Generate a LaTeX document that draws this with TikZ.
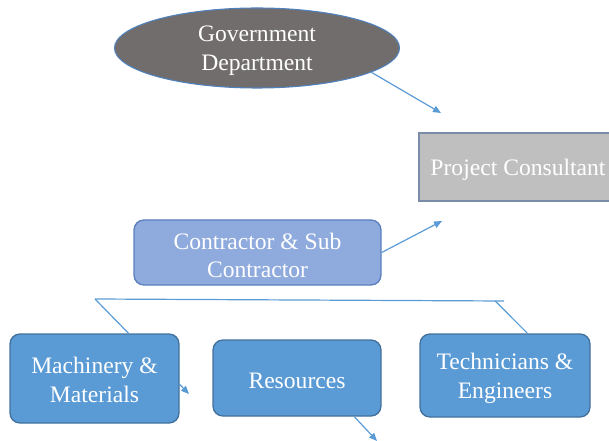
\documentclass[tikz,border=0pt]{standalone}
\usepackage{fontspec}
\setmainfont{Liberation Serif}
\usetikzlibrary{arrows.meta,shapes.geometric}
\definecolor{govfill}{HTML}{716D6D}
\definecolor{govline}{HTML}{4F81BD}
\definecolor{pcfill}{HTML}{BFBFBF}
\definecolor{pcline}{HTML}{7A8CA8}
\definecolor{ctfill}{HTML}{8FAADC}
\definecolor{ctline}{HTML}{5A7FBF}
\definecolor{bfill}{HTML}{5B9BD5}
\definecolor{bline}{HTML}{41719C}
\definecolor{lineblue}{HTML}{5B9BD5}
\begin{document}
\begin{tikzpicture}[x=0.75pt,y=-0.75pt,
  txt/.style={text=white, font=\fontsize{17.7}{21.6}\selectfont, align=center, inner sep=0pt, yshift=-2.2pt},
  shp/.style={inner sep=0pt, line width=1pt},
  bluebox/.style={shp, draw=bline, fill=bfill, rounded corners=7.5pt},
  conn/.style={draw=lineblue, line width=0.9pt},
  arr/.style={conn, -{Triangle[length=6pt,width=5pt]}}]
\useasboundingbox (0,0) rectangle (609,441);

\node[shp, ellipse, draw=govline, fill=govfill, line width=0.8pt,
  minimum width=213.75pt, minimum height=60pt,
  label={[txt]center:{Government\\Department}}] (gov) at (257,48) {};
\node[shp, rectangle, draw=pcline, fill=pcfill,
  minimum width=148.5pt, minimum height=51pt,
  label={[txt]center:{Project Consultant}}] (pc) at (518,167) {};
\node[shp, draw=ctline, fill=ctfill, rounded corners=7.5pt,
  minimum width=185.25pt, minimum height=48.75pt,
  label={[txt]center:{Contractor \& Sub\\Contractor}}] (ct) at (257.5,252.5) {};
\node[bluebox, minimum width=126.75pt, minimum height=66.75pt,
  label={[txt, yshift=1pt]center:{Machinery \&\\Materials}}] (mach) at (94.5,378.5) {};
\node[bluebox, minimum width=126pt, minimum height=57pt,
  label={[txt]center:{Resources}}] (res) at (297,378) {};
\node[bluebox, minimum width=127.5pt, minimum height=62.25pt,
  label={[txt]center:{Technicians \&\\Engineers}}] (tech) at (505,375.5) {};

\coordinate (govend) at (441,113);
\coordinate (ctend) at (442,221);
\coordinate (hl) at (95,299);
\coordinate (hr) at (504,301);
\coordinate (hj) at (495,300.8);
\coordinate (machend) at (189,394);
\coordinate (resend) at (377,441);

\draw[arr] (gov.-12) -- (govend);
\draw[arr] (ct.east) -- (ctend);
\draw[conn] (hl) -- (hr);
\draw[conn] (hl) -- (mach.53.9);
\draw[conn] (hj) -- (tech.62);
\draw[arr] (mach.-4.3) -- (machend);
\draw[arr] (res.-34.2) -- (resend);
\end{tikzpicture}
\end{document}
